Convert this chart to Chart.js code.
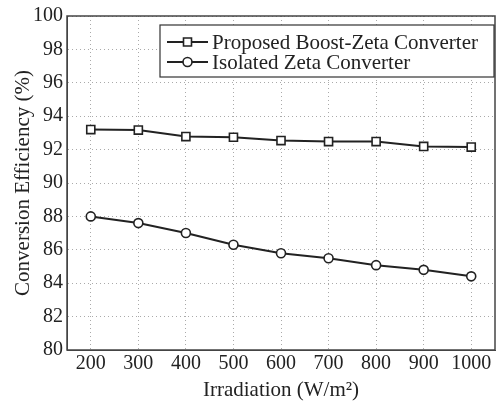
<!DOCTYPE html>
<html>
<head>
<meta charset="utf-8">
<script src="https://cdn.jsdelivr.net/npm/chart.js@4"></script>
<style>
  html, body { margin: 0; padding: 0; background: #fff; }
  #box { width: 503px; height: 403px; }
</style>
</head>
<body>
<div id="box"><canvas id="grafico"></canvas></div>
<script>
// dados
const irradiacao = [200, 300, 400, 500, 600, 700, 800, 900, 1000];
const boostZeta = [93.2, 93.17, 92.78, 92.74, 92.54, 92.48, 92.48, 92.19, 92.15];
const zetaIsolado = [88.0, 87.6, 87.01, 86.3, 85.79, 85.49, 85.08, 84.8, 84.41];
const nomesSeries = ['Proposed Boost-Zeta Converter', 'Isolated Zeta Converter'];
const ticksY = [80, 82, 84, 86, 88, 90, 92, 94, 96, 98, 100];

const FONTE = '"Liberation Serif", "Times New Roman", serif';
const COR = '#222';

function pares(valores) {
  return irradiacao.map((x, i) => ({ x: x, y: valores[i] }));
}

// moldura e legenda dentro do gráfico
const moldura = {
  id: 'moldura',
  afterDraw(chart) {
    const c = chart.ctx;
    const a = chart.chartArea;
    c.save();
    c.strokeStyle = '#444';
    c.lineWidth = 1.5;
    c.strokeRect(a.left, a.top, a.right - a.left, a.bottom - a.top);

    // legenda
    const x0 = 160, y0 = 25, x1 = 494, y1 = 77;
    c.fillStyle = '#fff';
    c.fillRect(x0, y0, x1 - x0, y1 - y0);
    c.lineWidth = 1.2;
    c.strokeStyle = '#333';
    c.strokeRect(x0, y0, x1 - x0, y1 - y0);

    const linhas = [42, 62];
    chart.data.datasets.forEach((ds, i) => {
      const y = linhas[i];
      c.strokeStyle = COR;
      c.lineWidth = 2;
      c.beginPath();
      c.moveTo(167, y);
      c.lineTo(208, y);
      c.stroke();
      c.fillStyle = '#fff';
      c.lineWidth = 1.6;
      c.beginPath();
      if (ds.pointStyle === 'rect') {
        c.rect(183.5, y - 4, 8, 8);
      } else {
        c.arc(187.5, y, 4.5, 0, Math.PI * 2);
      }
      c.fill();
      c.stroke();
      c.fillStyle = COR;
      c.font = '21px ' + FONTE;
      c.textBaseline = 'middle';
      c.textAlign = 'left';
      c.fillText(ds.label, 212, y + 1);
    });
    c.restore();
  }
};

const ctx = document.getElementById('grafico').getContext('2d');

new Chart(ctx, {
  type: 'line',
  data: {
    datasets: [{
      label: nomesSeries[0],
      data: pares(boostZeta),
      borderColor: COR,
      borderWidth: 2,
      pointStyle: 'rect',
      pointRadius: 5.7,
      pointBorderWidth: 1.6,
      pointBackgroundColor: '#fff',
      pointBorderColor: COR
    }, {
      label: nomesSeries[1],
      data: pares(zetaIsolado),
      borderColor: COR,
      borderWidth: 2,
      pointStyle: 'circle',
      pointRadius: 4.5,
      pointBorderWidth: 1.6,
      pointBackgroundColor: '#fff',
      pointBorderColor: COR
    }]
  },
  options: {
    responsive: true,
    maintainAspectRatio: false,
    animation: false,
    layout: { padding: { top: 11, right: 8, left: 0, bottom: 0 } },
    plugins: {
      legend: { display: false },
      tooltip: { enabled: false }
    },
    scales: {
      x: {
        type: 'linear',
        min: 150,
        max: 1050,
        afterBuildTicks(scale) {
          scale.ticks = irradiacao.map(v => ({ value: v }));
        },
        afterFit(scale) { scale.height = 53; },
        grid: {
          color: '#aaa',
          lineWidth: 1,
          drawTicks: false
        },
        border: { display: true, color: '#444', dash: [1, 3] },
        ticks: {
          color: COR,
          padding: 2,
          callback: v => String(v),
          font: { family: FONTE, size: 20 }
        },
        title: {
          display: true,
          text: 'Irradiation (W/m²)',
          color: COR,
          padding: { top: 0, bottom: 0 },
          font: { family: FONTE, size: 21 }
        }
      },
      y: {
        min: 80,
        max: 100,
        afterBuildTicks(scale) {
          scale.ticks = ticksY.map(v => ({ value: v }));
        },
        afterFit(scale) { scale.width = 67; },
        grid: {
          color: '#aaa',
          lineWidth: 1,
          drawTicks: false
        },
        border: { display: true, color: '#444', dash: [1, 3] },
        ticks: {
          color: COR,
          padding: 4,
          callback: v => String(v),
          font: { family: FONTE, size: 20 }
        },
        title: {
          display: true,
          text: 'Conversion Efficiency (%)',
          color: COR,
          padding: { top: 11, bottom: 0 },
          font: { family: FONTE, size: 21 }
        }
      }
    }
  },
  plugins: [moldura]
});
</script>
</body>
</html>
